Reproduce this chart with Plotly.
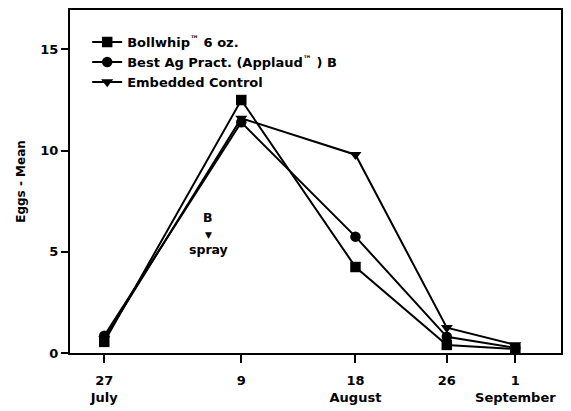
import plotly.graph_objects as go

# x positions (days after 27 July as plotted) and tick labels
x_pos = [0, 12, 22, 30, 36]
tick_text = ["27<br>July", "9", "18<br>August", "26", "1<br>September"]

bollwhip = [0.55, 12.5, 4.25, 0.4, 0.2]
best_ag = [0.85, 11.4, 5.75, 0.8, 0.25]
control = [0.7, 11.6, 9.8, 1.25, 0.4]

series_names = [
    "Bollwhip<sup>™</sup> 6 oz.",
    "Best Ag Pract. (Applaud<sup>™</sup> ) B",
    "Embedded Control",
]
symbols = ["square", "circle", "triangle-down"]

FONT = "DejaVu Sans"

fig = go.Figure()
for name, ys, sym in zip(series_names, [bollwhip, best_ag, control], symbols):
    fig.add_trace(go.Scatter(
        x=x_pos, y=ys, name=name, mode="lines+markers",
        line=dict(color="black", width=2),
        marker=dict(symbol=sym, size=10.5, color="black"),
    ))

# spray annotation
spray_x = 9.1
fig.add_annotation(x=spray_x, y=6.7, text="<b>B</b>", showarrow=False,
                   font=dict(family=FONT, size=12.5, color="black"))
fig.add_annotation(x=spray_x, y=5.85, text="▼", showarrow=False,
                   font=dict(family=FONT, size=9, color="black"))
fig.add_annotation(x=spray_x, y=5.1, text="<b>spray</b>", showarrow=False,
                   font=dict(family=FONT, size=12.5, color="black"))

fig.update_layout(
    width=571, height=411,
    margin=dict(l=70, r=10, t=10, b=58),
    plot_bgcolor="white", paper_bgcolor="white",
    font=dict(family=FONT, size=13, color="black", weight="bold"),
    showlegend=True,
    legend=dict(x=0.035, y=0.95, xanchor="left", yanchor="top",
                bgcolor="rgba(0,0,0,0)", font=dict(family=FONT, size=13, weight="bold"),
                tracegroupgap=0, itemwidth=30),
    xaxis=dict(range=[-3, 40], tickmode="array", tickvals=x_pos, ticktext=tick_text,
               automargin=False,
               showgrid=False, zeroline=False, showline=True, linecolor="black", linewidth=2,
               mirror=True, ticks="outside", ticklen=8, tickwidth=1.5, tickcolor="black",
               ticklabelstandoff=6,
               tickfont=dict(family=FONT, size=13, weight="bold")),
    yaxis=dict(range=[0, 16.95], tickvals=[0, 5, 10, 15], automargin=False,
               showgrid=False, zeroline=False, showline=True, linecolor="black", linewidth=2,
               mirror=True, ticks="outside", ticklen=7, tickwidth=1.5, tickcolor="black",
               tickfont=dict(family=FONT, size=13, weight="bold"),
               title=dict(text="Eggs - Mean", font=dict(family=FONT, size=12, weight="bold"),
                          standoff=12)),
)

fig.write_html("out.html")
